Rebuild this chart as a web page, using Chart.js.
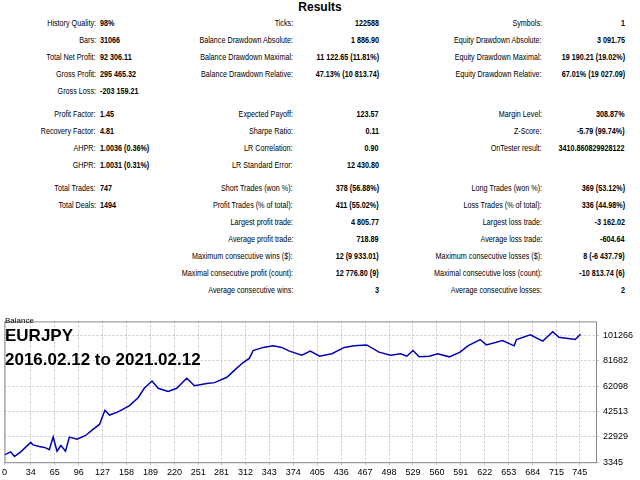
<!DOCTYPE html><html><head><meta charset="utf-8">
<script src="https://cdn.jsdelivr.net/npm/chart.js@4/dist/chart.umd.min.js"></script>
<style>
body{margin:0;width:640px;height:480px;background:#fff;font-family:"Liberation Sans",Arial,sans-serif;font-size:9px;color:#000;position:relative;overflow:hidden}
.t{position:absolute;white-space:nowrap;transform:scaleX(.8);transform-origin:left center}
.r{text-align:right;transform-origin:right center}
.b{font-weight:bold}
#wrap{position:absolute;left:0;top:312px;width:640px;height:168px}
.ov{position:absolute;left:5px;font-family:"Liberation Sans",Arial;font-weight:bold;color:#000}
</style></head><body>
<div class="b" style="position:absolute;left:0;width:640px;text-align:center;top:0;font-size:12px">Results</div>
<div id="tbl"></div>
<div id="wrap"><canvas id="c" width="640" height="168"></canvas>
<div class="ov" style="top:4px;font-size:8px;font-weight:normal">Balance</div>
<div class="ov" style="top:14px;font-size:17px">EURJPY</div>
<div class="ov" style="top:38px;font-size:17px">2016.02.12 to 2021.02.12</div>
</div>
<script>
const tradeIndex=[0,8,13,21,34,37,45,52,58,63,68,73,79,84,94,105,115,123,130,136,147,162,173,181,191,199,212,223,236,246,262,272,288,299,309,317,322,335,348,359,369,385,396,408,424,440,453,469,485,500,513,521,529,537,550,561,576,590,600,616,624,645,660,663,681,697,710,718,739,746];
const balance=[9000,11350,7700,11350,18630,16700,15500,14750,13050,22750,11840,16200,11840,22750,21060,23970,28830,32470,43390,39750,42180,47030,53100,60380,65960,60380,57950,60380,68150,62320,64020,64750,68870,74940,80280,83440,89510,91930,93150,91930,89020,85860,89020,85130,87080,91930,93150,93870,88290,85860,87080,85130,89510,84650,85130,87080,84650,88290,93150,97990,93870,97270,93150,97990,101630,96780,104060,99690,97990,102120];
const xTicks=[0,34,65,96,127,158,189,220,251,281,312,343,374,405,436,467,498,529,560,591,622,653,684,715,745];
const yTicks=[3345,22929,42513,62098,81682,101266];
const rows=[
[24,"History Quality:","98%","Ticks:","122588","Symbols:","1"],
[41,"Bars:","31066","Balance Drawdown Absolute:","1 886.90","Equity Drawdown Absolute:","3 091.75"],
[58,"Total Net Profit:","92 306.11","Balance Drawdown Maximal:","11 122.65 (11.81%)","Equity Drawdown Maximal:","19 190.21 (19.02%)"],
[75,"Gross Profit:","295 465.32","Balance Drawdown Relative:","47.13% (10 813.74)","Equity Drawdown Relative:","67.01% (19 027.09)"],
[92,"Gross Loss:","-203 159.21","","","",""],
[115,"Profit Factor:","1.45","Expected Payoff:","123.57","Margin Level:","308.87%"],
[132,"Recovery Factor:","4.81","Sharpe Ratio:","0.11","Z-Score:","-5.79 (99.74%)"],
[149,"AHPR:","1.0036 (0.36%)","LR Correlation:","0.90","OnTester result:","3410.860829928122"],
[166,"GHPR:","1.0031 (0.31%)","LR Standard Error:","12 430.80","",""],
[189,"Total Trades:","747","Short Trades (won %):","378 (56.88%)","Long Trades (won %):","369 (53.12%)"],
[206,"Total Deals:","1494","Profit Trades (% of total):","411 (55.02%)","Loss Trades (% of total):","336 (44.98%)"],
[223,"","","Largest profit trade:","4 805.77","Largest loss trade:","-3 162.02"],
[240,"","","Average profit trade:","718.89","Average loss trade:","-604.64"],
[257,"","","Maximum consecutive wins ($):","12 (9 933.01)","Maximum consecutive losses ($):","8 (-6 437.79)"],
[274,"","","Maximal consecutive profit (count):","12 776.80 (9)","Maximal consecutive loss (count):","-10 813.74 (6)"],
[291,"","","Average consecutive wins:","3","Average consecutive losses:","2"]];
let h="";
for(const r of rows){const y=r[0]-6;
h+=`<div class="t r" style="right:${640-96}px;top:${y}px">${r[1]}</div><div class="t b" style="left:100px;top:${y}px">${r[2]}</div>`;
h+=`<div class="t r" style="right:${640-293}px;top:${y}px">${r[3]}</div><div class="t b r" style="right:${640-379}px;top:${y}px">${r[4]}</div>`;
h+=`<div class="t r" style="right:${640-542}px;top:${y}px">${r[5]}</div><div class="t b r" style="right:${640-625}px;top:${y}px">${r[6]}</div>`;}
document.getElementById('tbl').innerHTML=h;
const frame={id:'frame',afterDraw(c){const a=c.chartArea,x=c.ctx;x.save();x.strokeStyle='#888';x.lineWidth=1;x.strokeRect(a.left+.5,a.top+.5,a.right-a.left,a.bottom-a.top);x.restore();}};
new Chart(document.getElementById('c'),{type:'line',
data:{datasets:[{data:tradeIndex.map((v,i)=>({x:v,y:balance[i]})),borderColor:'#0000b4',borderWidth:1.5,pointRadius:0,tension:0}]},
options:{responsive:false,animation:false,layout:{padding:{left:1,top:2,right:0,bottom:0}},
plugins:{legend:{display:false},tooltip:{enabled:false}},
scales:{x:{type:'linear',min:0,max:766,afterBuildTicks(s){s.ticks=xTicks.map(v=>({value:v}));},
ticks:{color:'#000',font:{size:9,family:'Liberation Sans'},maxRotation:0,autoSkip:false,padding:2,callback:v=>String(v)},
grid:{color:'#c8c8c8',tickLength:3,drawTicks:true},border:{dash:[2,2],display:false}},
y:{position:'right',min:3345,max:112000,afterBuildTicks(s){s.ticks=yTicks.map(v=>({value:v}));},
ticks:{color:'#000',font:{size:9,family:'Liberation Sans'},padding:4,callback:v=>String(v)},
grid:{color:'#c8c8c8',tickLength:3},border:{dash:[2,2],display:false},afterFit(s){s.width=44;}}}},
plugins:[frame]});
</script></body></html>
